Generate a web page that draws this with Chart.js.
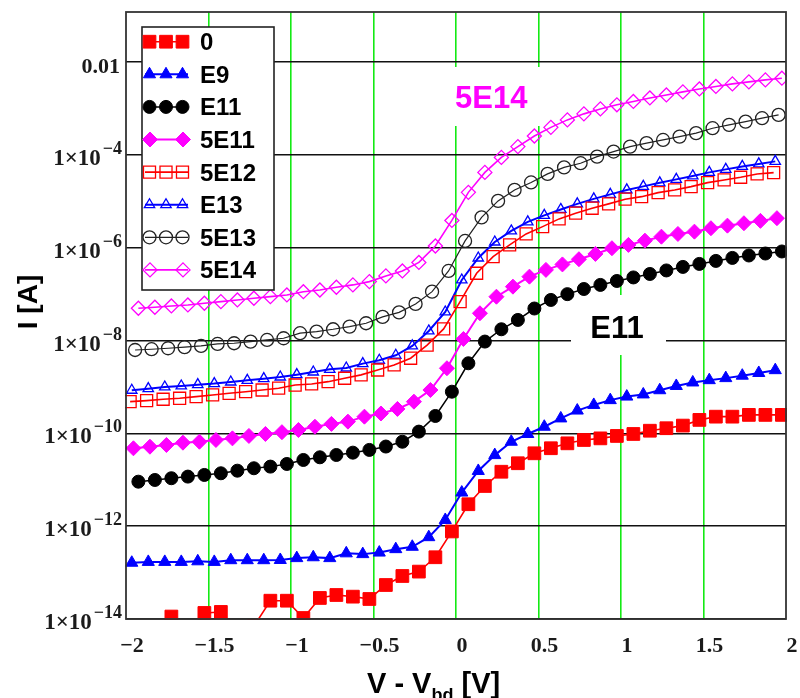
<!DOCTYPE html>
<html>
<head>
<meta charset="utf-8">
<title>I-V curves</title>
<script src="https://cdn.jsdelivr.net/npm/chart.js@4.4.1/dist/chart.umd.min.js"></script>
<style>
  html, body { margin: 0; padding: 0; background: #fff; }
  #wrap { width: 800px; height: 698px; }
</style>
</head>
<body>
<div id="wrap"><canvas id="iv" width="800" height="698"></canvas></div>
<script>
// bias points (V - Vbd), each sample sits a little off this grid
const biasGrid = [-1.95, -1.85, -1.75, -1.65, -1.55, -1.45, -1.35, -1.25, -1.15, -1.05,
                  -0.95, -0.85, -0.75, -0.65, -0.55, -0.45, -0.35, -0.25, -0.15, -0.05,
                   0.05,  0.15,  0.25,  0.35,  0.45,  0.55,  0.65,  0.75,  0.85,  0.95,
                   1.05,  1.15,  1.25,  1.35,  1.45,  1.55,  1.65,  1.75,  1.85,  1.95];

const seriesNames = ['0', 'E9', 'E11', '5E11', '5E12', 'E13', '5E13', '5E14'];
const seriesShift = [0.025, -0.015, 0.025, -0.005, -0.025, -0.015, 0.005, 0.025];

// current [A]
const cur0 = [null, null, 1.13e-14, null, 1.35e-14, 1.42e-14, null, 7e-15, 2.48e-14, 2.48e-14,
              1.05e-14, 2.84e-14, 3.29e-14, 3.03e-14, 2.7e-14, 5.4e-14, 8.45e-14, 1.05e-13, 2.14e-13, 7.7e-13,
              2.97e-12, 7.35e-12, 1.49e-11, 2.27e-11, 3.72e-11, 4.78e-11, 6.1e-11, 7.2e-11, 7.8e-11, 8.8e-11,
              9.7e-11, 1.14e-10, 1.29e-10, 1.47e-10, 1.95e-10, 2.29e-10, 2.29e-10, 2.5e-10, 2.5e-10, 2.5e-10];
const curE9 = [1.63e-13, 1.7e-13, 1.7e-13, 1.7e-13, 1.75e-13, 1.7e-13, 1.85e-13, 1.85e-13, 1.85e-13, 1.87e-13,
               2.05e-13, 2.14e-13, 2.05e-13, 2.6e-13, 2.5e-13, 2.7e-13, 3.2e-13, 3.6e-13, 5.8e-13, 1.36e-12,
               5.3e-12, 1.55e-11, 3.4e-11, 6.6e-11, 9.7e-11, 1.39e-10, 2.1e-10, 3.1e-10, 4.1e-10, 5.2e-10,
               6.2e-10, 6.9e-10, 8.5e-10, 1.05e-9, 1.25e-9, 1.4e-9, 1.55e-9, 1.75e-9, 2.0e-9, 2.3e-9];
const curE11 = [9.1e-12, 9.9e-12, 1.08e-11, 1.17e-11, 1.27e-11, 1.38e-11, 1.57e-11, 1.77e-11, 1.92e-11, 2.19e-11,
                2.67e-11, 3.05e-11, 3.42e-11, 3.84e-11, 4.4e-11, 5.2e-11, 6.6e-11, 1.09e-10, 2.37e-10, 7.9e-10,
                3.24e-9, 9.5e-9, 1.75e-8, 2.78e-8, 4.9e-8, 7.5e-8, 1.0e-7, 1.29e-7, 1.58e-7, 1.92e-7,
                2.29e-7, 2.72e-7, 3.24e-7, 3.86e-7, 4.48e-7, 5.2e-7, 6.03e-7, 6.8e-7, 7.5e-7, 8.3e-7];
const cur5E11 = [4.77e-11, 5.16e-11, 5.62e-11, 6.3e-11, 6.6e-11, 7.2e-11, 7.8e-11, 8.8e-11, 9.7e-11, 1.06e-10,
                 1.18e-10, 1.39e-10, 1.6e-10, 1.79e-10, 2.29e-10, 2.68e-10, 3.36e-10, 4.82e-10, 8.6e-10, 2.53e-9,
                 1.08e-8, 3.87e-8, 8.8e-8, 1.45e-7, 2.38e-7, 3.33e-7, 4.37e-7, 5.65e-7, 7.35e-7, 9.75e-7,
                 1.15e-6, 1.42e-6, 1.73e-6, 1.98e-6, 2.22e-6, 2.63e-6, 2.99e-6, 3.37e-6, 3.79e-6, 4.33e-6];
const cur5E12 = [4.82e-10, 5.07e-10, 5.43e-10, 5.7e-10, 6.18e-10, 6.73e-10, 7.3e-10, 7.9e-10, 8.6e-10, 9.4e-10,
                 1.1e-9, 1.16e-9, 1.3e-9, 1.54e-9, 1.82e-9, 2.32e-9, 2.98e-9, 4.16e-9, 8.0e-9, 1.78e-8,
                 6.9e-8, 2.82e-7, 6.43e-7, 1.15e-6, 1.98e-6, 2.85e-6, 4.18e-6, 5.55e-6, 7.1e-6, 8.8e-6,
                 1.11e-5, 1.26e-5, 1.54e-5, 1.76e-5, 2.07e-5, 2.53e-5, 2.89e-5, 3.3e-5, 3.89e-5, 4.16e-5];
const curE13 = [8.5e-10, 9.2e-10, 1.0e-9, 1.05e-9, 1.12e-9, 1.18e-9, 1.28e-9, 1.39e-9, 1.51e-9, 1.64e-9,
                1.84e-9, 2.1e-9, 2.4e-9, 2.56e-9, 3.18e-9, 3.76e-9, 4.82e-9, 7.66e-9, 1.61e-8, 4.13e-8,
                2.02e-7, 6.0e-7, 1.33e-6, 2.3e-6, 3.6e-6, 4.97e-6, 6.68e-6, 8.8e-6, 1.13e-5, 1.41e-5,
                1.76e-5, 2.1e-5, 2.5e-5, 2.97e-5, 3.52e-5, 4.2e-5, 4.88e-5, 5.65e-5, 6.4e-5, 7.25e-5];
const cur5E13 = [6.26e-9, 6.5e-9, 6.82e-9, 7.18e-9, 7.66e-9, 8.45e-9, 8.75e-9, 9.46e-9, 1.03e-8, 1.12e-8,
                 1.44e-8, 1.56e-8, 1.75e-8, 2.0e-8, 2.36e-8, 3.23e-8, 4.04e-8, 6.15e-8, 1.13e-7, 3.16e-7,
                 1.4e-6, 4.5e-6, 1.02e-5, 1.76e-5, 2.55e-5, 3.9e-5, 5.38e-5, 6.62e-5, 9.18e-5, 1.18e-4,
                 1.51e-4, 1.79e-4, 2.1e-4, 2.48e-4, 2.94e-4, 3.76e-4, 4.44e-4, 5.22e-4, 6.18e-4, 7.28e-4];
const cur5E14 = [4.97e-8, 5.22e-8, 5.57e-8, 5.85e-8, 6.37e-8, 6.89e-8, 7.5e-8, 8.17e-8, 8.83e-8, 9.6e-8,
                 1.13e-7, 1.23e-7, 1.41e-7, 1.58e-7, 1.86e-7, 2.47e-7, 3.16e-7, 4.82e-7, 1.09e-6, 3.87e-6,
                 1.56e-5, 4.2e-5, 8.83e-5, 1.51e-4, 2.56e-4, 3.92e-4, 5.68e-4, 7.66e-4, 9.8e-4, 1.2e-3,
                 1.42e-3, 1.69e-3, 1.96e-3, 2.28e-3, 2.64e-3, 2.99e-3, 3.39e-3, 3.74e-3, 4.13e-3, 4.5e-3];

const xTickValues = [-2, -1.5, -1, -0.5, 0, 0.5, 1, 1.5, 2];
const xTickLabels = ['\u22122', '\u22121.5', '\u22121', '\u22120.5', '0', '0.5', '1', '1.5', '2'];
const yTickExps = [-14, -12, -10, -8, -6, -4, -2];

const allCurrents = [cur0, curE9, curE11, cur5E11, cur5E12, curE13, cur5E13, cur5E14];

const RED = '#ff0000', BLUE = '#0000ff', BLACK = '#000000', MAG = '#ff00ff';
const seriesStyle = [
  { color: RED,   shape: 'rect',     r: 9,   filled: true,  lw: 1.6, marks: 3 },
  { color: BLUE,  shape: 'triangle', r: 7,   filled: true,  lw: 2,   marks: 3 },
  { color: BLACK, shape: 'circle',   r: 6.5, filled: true,  lw: 1.5, marks: 3 },
  { color: MAG,   shape: 'rectRot',  r: 7.5, filled: true,  lw: 2,   marks: 2 },
  { color: RED,   shape: 'rect',     r: 8.5, filled: false, lw: 1.6, marks: 3 },
  { color: BLUE,  shape: 'triangle', r: 6,   filled: false, lw: 2,   marks: 3 },
  { color: '#222', shape: 'circle',  r: 6.5, filled: false, lw: 1.2, marks: 3 },
  { color: MAG,   shape: 'rectRot',  r: 7,   filled: false, lw: 1.6, marks: 2 }
];

const datasets = seriesNames.map((name, s) => {
  const st = seriesStyle[s];
  return {
    label: name,
    data: allCurrents[s].map((v, i) => ({ x: +(biasGrid[i] + seriesShift[s]).toFixed(3), y: v })),
    borderColor: st.color,
    borderWidth: st.lw,
    pointStyle: st.shape,
    pointRadius: st.r,
    pointBackgroundColor: st.filled ? st.color : 'rgba(0,0,0,0)',
    pointBorderColor: st.color,
    pointBorderWidth: st.filled ? 1 : 1.3,
    tension: 0,
    spanGaps: false,
    clip: { left: 1, right: 1, top: 1, bottom: 1 }
  };
});

const SERIF = '"Liberation Serif", "Times New Roman", serif';
const SANS = '"Liberation Sans", Arial, sans-serif';

// white patches behind the two curve labels, then the labels themselves
const callouts = [
  { text: '5E14', color: MAG,   box: [445, 67, 100, 59], x: 455, y: 108, align: 'left' },
  { text: 'E11',  color: BLACK, box: [571, 295, 95, 60], x: 617, y: 338, align: 'center' }
];

const decorations = {
  id: 'decorations',
  beforeDatasetsDraw(chart) {
    const ctx = chart.ctx;
    ctx.save();
    callouts.forEach(c => {
      ctx.fillStyle = '#fff';
      ctx.fillRect(c.box[0], c.box[1], c.box[2], c.box[3]);
      ctx.fillStyle = c.color;
      ctx.font = 'bold 31px ' + SANS;
      ctx.textAlign = c.align;
      ctx.textBaseline = 'alphabetic';
      ctx.fillText(c.text, c.x, c.y);
    });
    ctx.restore();
  },
  afterDraw(chart) {
    const ctx = chart.ctx;
    const area = chart.chartArea;
    const xs = chart.scales.x, ys = chart.scales.y;
    ctx.save();

    // plot frame
    ctx.strokeStyle = '#333';
    ctx.lineWidth = 1.8;
    ctx.strokeRect(area.left, area.top, area.right - area.left, area.bottom - area.top);

    // x tick labels
    ctx.fillStyle = '#1b1b1b';
    ctx.font = 'bold 22px ' + SERIF;
    ctx.textAlign = 'center';
    ctx.textBaseline = 'alphabetic';
    xTickValues.forEach((v, i) => {
      ctx.fillText(xTickLabels[i], xs.getPixelForValue(v) + 6, 652);
    });

    // y tick labels, 1x10^n
    yTickExps.forEach(e => {
      const py = ys.getPixelForValue(Math.pow(10, e));
      if (e === -2) {
        ctx.font = 'bold 22px ' + SERIF;
        ctx.textAlign = 'right';
        ctx.fillText('0.01', 120, py + 11);
        return;
      }
      const expText = '\u2212' + Math.abs(e);
      ctx.font = 'bold 18px ' + SERIF;
      ctx.textAlign = 'right';
      ctx.fillText(expText, 122, py - 1);
      const ew = ctx.measureText(expText).width;
      ctx.font = 'bold 23px ' + SERIF;
      ctx.fillText('1\u00d710', 122 - ew - 2, py + 10);
    });

    // axis titles
    ctx.fillStyle = '#000';
    ctx.font = 'bold 29px ' + SANS;
    ctx.textAlign = 'left';
    let tx = 367;
    ctx.fillText('V - V', tx, 693);
    tx += ctx.measureText('V - V').width;
    ctx.font = 'bold 18px ' + SANS;
    ctx.fillText('bd', tx, 701);
    tx += ctx.measureText('bd').width;
    ctx.font = 'bold 29px ' + SANS;
    ctx.fillText(' [V]', tx, 693);

    ctx.save();
    ctx.translate(37, 302);
    ctx.rotate(-Math.PI / 2);
    ctx.font = 'bold 28px ' + SANS;
    ctx.textAlign = 'center';
    ctx.fillText('I [A]', 0, 0);
    ctx.restore();

    // legend
    ctx.fillStyle = '#fff';
    ctx.fillRect(142, 27, 132, 263);
    ctx.strokeStyle = '#222';
    ctx.lineWidth = 1.6;
    ctx.strokeRect(142, 27, 132, 263);
    seriesNames.forEach((name, s) => {
      const st = seriesStyle[s];
      const cy = 41.7 + s * 32.6;
      ctx.strokeStyle = st.color;
      ctx.lineWidth = st.lw;
      ctx.beginPath();
      ctx.moveTo(145, cy);
      ctx.lineTo(188, cy);
      ctx.stroke();
      const marks = st.marks === 3 ? [149.5, 166, 182.5] : [150, 183];
      marks.forEach(mx => {
        ctx.fillStyle = st.filled ? st.color : 'rgba(0,0,0,0)';
        ctx.strokeStyle = st.color;
        ctx.lineWidth = st.filled ? 1 : 1.3;
        Chart.helpers.drawPoint(ctx, {
          pointStyle: st.shape, radius: st.r, rotation: 0, borderWidth: ctx.lineWidth
        }, mx, cy);
      });
      ctx.fillStyle = '#000';
      ctx.font = 'bold 24px ' + SANS;
      ctx.textAlign = 'left';
      ctx.fillText(name, 200, cy + 8.5);
    });

    ctx.restore();
  }
};

new Chart(document.getElementById('iv'), {
  type: 'line',
  data: { datasets },
  options: {
    responsive: false,
    animation: false,
    layout: { padding: { left: 126, right: 14, top: 12, bottom: 79 } },
    plugins: { legend: { display: false }, tooltip: { enabled: false } },
    scales: {
      x: {
        type: 'linear',
        min: -2,
        max: 2,
        ticks: { display: false, stepSize: 0.5 },
        grid: {
          drawTicks: false,
          lineWidth: 1.6,
          color: c => (Math.abs(c.tick.value) === 2 ? 'rgba(0,0,0,0)' : '#14ea14')
        },
        border: { display: false }
      },
      y: {
        type: 'logarithmic',
        min: 1e-14,
        max: 0.12,
        afterBuildTicks: scale => {
          scale.ticks = yTickExps.map(e => ({ value: Math.pow(10, e) }));
        },
        ticks: { display: false },
        grid: { drawTicks: false, lineWidth: 1.6, color: '#111' },
        border: { display: false }
      }
    }
  },
  plugins: [decorations]
});
</script>
</body>
</html>
